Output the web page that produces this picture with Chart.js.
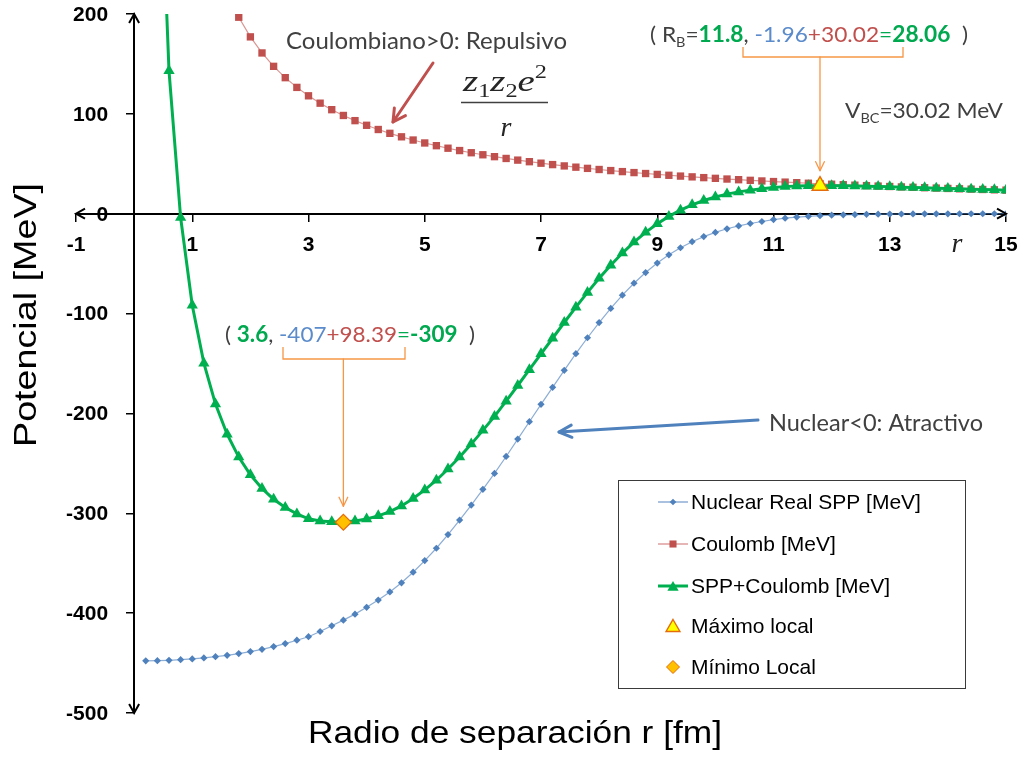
<!DOCTYPE html>
<html>
<head>
<meta charset="utf-8">
<script src="https://cdn.jsdelivr.net/npm/chart.js@4.4.1/dist/chart.umd.min.js"></script>
<style>
  html, body { margin: 0; padding: 0; background: #fff; }
  #wrap { width: 1032px; height: 762px; position: relative; }
</style>
</head>
<body>
<div id="wrap"><canvas id="c" width="1032" height="762"></canvas></div>
<script>
// ---- Data -------------------------------------------------------------
// Separation radius r [fm] for the nuclear (SPP) potential
const radiusNuclear = [0.2,0.4,0.6,0.8,1.0,1.2,1.4,1.6,1.8,2.0,2.2,2.4,2.6,2.8,3.0,3.2,3.4,3.6,3.8,4.0,
  4.2,4.4,4.6,4.8,5.0,5.2,5.4,5.6,5.8,6.0,6.2,6.4,6.6,6.8,7.0,7.2,7.4,7.6,7.8,8.0,
  8.2,8.4,8.6,8.8,9.0,9.2,9.4,9.6,9.8,10.0,10.2,10.4,10.6,10.8,11.0,11.2,11.4,11.6,11.8,12.0,
  12.2,12.4,12.6,12.8,13.0,13.2,13.4,13.6,13.8,14.0,14.2,14.4,14.6,14.8,15.0];
// Nuclear real SPP potential [MeV]
const nuclearSPP = [-447.8,-447.6,-447.2,-446.6,-445.8,-444.8,-443.6,-442.2,-440.5,-438.5,
  -436.2,-433.5,-430.5,-427.1,-423.6,-418.4,-412.7,-407.0,-401.0,-394.2,
  -386.9,-378.8,-369.6,-359.0,-347.4,-335.0,-321.3,-306.8,-291.8,-276.0,
  -260.1,-243.1,-225.7,-208.3,-190.9,-173.9,-156.8,-140.2,-124.2,-109.0,
  -94.8,-81.6,-69.6,-58.9,-49.4,-41.2,-34.1,-28.0,-22.9,-18.7,
  -15.1,-12.2,-9.8,-7.8,-5.9,-4.5,-3.4,-2.6,-1.96,-1.48,
  -1.12,-0.85,-0.64,-0.48,-0.36,-0.27,-0.20,-0.15,-0.11,-0.08,
  -0.06,-0.045,-0.033,-0.025,-0.018];

// Coulomb potential [MeV]
const radiusCoulomb = [1.8,2.0,2.2,2.4,2.6,2.8,3.0,3.2,3.4,3.6,3.8,4.0,
  4.2,4.4,4.6,4.8,5.0,5.2,5.4,5.6,5.8,6.0,6.2,6.4,6.6,6.8,7.0,7.2,7.4,7.6,7.8,8.0,
  8.2,8.4,8.6,8.8,9.0,9.2,9.4,9.6,9.8,10.0,10.2,10.4,10.6,10.8,11.0,11.2,11.4,11.6,11.8,12.0,
  12.2,12.4,12.6,12.8,13.0,13.2,13.4,13.6,13.8,14.0,14.2,14.4,14.6,14.8,15.0];
const coulomb = [196.78,177.10,161.00,147.58,136.23,126.50,118.07,110.69,104.18,98.39,93.21,88.55,
  84.33,80.50,77.00,73.79,70.84,68.12,65.59,63.25,61.07,59.03,57.13,55.34,53.67,52.09,50.60,49.19,47.86,46.61,45.41,44.28,
  43.20,42.17,41.19,40.25,39.36,38.50,37.68,36.90,36.14,35.42,34.73,34.06,33.42,32.80,32.20,31.63,31.07,30.53,30.02,29.52,
  29.03,28.56,28.11,27.67,27.25,26.83,26.43,26.04,25.67,25.30,24.94,24.60,24.26,23.93,23.61];

// Total potential SPP + Coulomb [MeV]
const radiusTotal = [0.4,0.6,0.8,1.0,1.2,1.4,1.6,1.8,2.0,2.2,2.4,2.6,2.8,3.0,3.2,3.4,3.6,3.8,4.0,
  4.2,4.4,4.6,4.8,5.0,5.2,5.4,5.6,5.8,6.0,6.2,6.4,6.6,6.8,7.0,7.2,7.4,7.6,7.8,8.0,
  8.2,8.4,8.6,8.8,9.0,9.2,9.4,9.6,9.8,10.0,10.2,10.4,10.6,10.8,11.0,11.2,11.4,11.6,11.8,12.0,
  12.2,12.4,12.6,12.8,13.0,13.2,13.4,13.6,13.8,14.0,14.2,14.4,14.6,14.8,15.0];
const sppCoulomb = [437.90,143.13,-3.85,-91.60,-149.63,-190.60,-220.82,-243.72,-261.40,-275.20,-285.92,-294.27,-300.60,-305.53,-307.71,-308.52,-308.61,-307.79,-305.65,
  -302.57,-298.30,-292.60,-285.21,-276.56,-266.88,-255.71,-243.55,-230.73,-216.97,-202.97,-187.76,-172.03,-156.21,-140.30,-124.71,-108.94,-93.59,-78.79,-64.72,
  -51.60,-39.43,-28.41,-18.65,-10.04,-2.70,3.58,8.90,13.24,16.72,19.63,21.86,23.62,25.00,26.30,27.13,27.67,27.93,28.06,28.04,
  27.91,27.71,27.47,27.19,26.89,26.56,26.23,25.89,25.56,25.22,24.88,24.56,24.23,23.91,23.59];

// Barrier (local maximum) and well bottom (local minimum)
const maxLocalR = [11.8];
const maxLocalV = [28.06];
const minLocalR = [3.6];
const minLocalV = [-309];

// Axis tick values
const xTicks = [-1, 1, 3, 5, 7, 9, 11, 13, 15];
const yTicks = [200, 100, 0, -100, -200, -300, -400, -500];

// ---- Styling -----------------------------------------------------------
const AXIS_FONT = '"Liberation Sans", Arial, sans-serif';
const NOTE_FONT = 'Lato, "Open Sans", sans-serif';
const SERIF = '"Liberation Serif", "DejaVu Serif", serif';
const C_BLUE = '#4F81BD', C_RED = '#C0504D', C_GREEN = '#00B050', C_ORANGE = '#F79646';
const C_TEXT = '#404040', T_BLUE = '#5B8BCB', T_RED = '#C0504D', T_GREEN = '#00A84F';

const pts = (xs, ys) => xs.map((x, i) => ({ x: x, y: ys[i] }));

// ---- Drawing helpers ---------------------------------------------------
function drawMarker(ctx, style, x, y, r, fill, stroke, lw) {
  ctx.beginPath();
  if (style === 'triangle') {
    for (let k = 0; k < 3; k++) {
      const a = k * 2 * Math.PI / 3;
      const px = x + r * Math.sin(a), py = y - r * Math.cos(a);
      k ? ctx.lineTo(px, py) : ctx.moveTo(px, py);
    }
    ctx.closePath();
  } else if (style === 'rect') {
    const s = r * Math.SQRT1_2;
    ctx.rect(x - s, y - s, 2 * s, 2 * s);
  } else {
    ctx.moveTo(x, y - r); ctx.lineTo(x + r, y); ctx.lineTo(x, y + r); ctx.lineTo(x - r, y); ctx.closePath();
  }
  ctx.fillStyle = fill; ctx.fill();
  if (lw) { ctx.strokeStyle = stroke; ctx.lineWidth = lw; ctx.stroke(); }
}

function arrow(ctx, x1, y1, x2, y2, color, width, head, spread) {
  ctx.save();
  ctx.strokeStyle = color; ctx.lineWidth = width; ctx.lineCap = 'round'; ctx.lineJoin = 'round';
  ctx.beginPath(); ctx.moveTo(x1, y1); ctx.lineTo(x2, y2); ctx.stroke();
  const a = Math.atan2(y2 - y1, x2 - x1), s = spread || 0.5;
  ctx.beginPath();
  ctx.moveTo(x2 - head * Math.cos(a - s), y2 - head * Math.sin(a - s));
  ctx.lineTo(x2, y2);
  ctx.lineTo(x2 - head * Math.cos(a + s), y2 - head * Math.sin(a + s));
  ctx.stroke();
  ctx.restore();
}

// Rich text: segments {t, color, bold, sub}, squeezed to a given width
function richText(ctx, segs, x, y, width, size, family, align) {
  ctx.save();
  ctx.textBaseline = 'middle';
  ctx.textAlign = 'left';
  const fontOf = s => (s.italic ? 'italic ' : '') + (s.bold ? 'bold ' : '') +
    (s.sub ? Math.round(size * 0.62) : size) + 'px ' + family;
  let total = 0;
  segs.forEach(s => { ctx.font = fontOf(s); s.w = ctx.measureText(s.t).width; total += s.w; });
  const k = width ? width / total : 1;
  const left = align === 'center' ? x - (width || total) / 2 : x;
  ctx.translate(left, y);
  ctx.scale(k, 1);
  let cx = 0;
  segs.forEach(s => {
    ctx.font = fontOf(s);
    ctx.fillStyle = s.color;
    ctx.fillText(s.t, cx, s.sub ? size * 0.32 : 0);
    cx += s.w;
  });
  ctx.restore();
}

function bracket(ctx, xl, xr, yTop, yBar, xc, yTip) {
  ctx.save();
  ctx.strokeStyle = C_ORANGE; ctx.lineWidth = 1.3;
  ctx.beginPath();
  ctx.moveTo(xl, yTop); ctx.lineTo(xl, yBar); ctx.lineTo(xr, yBar); ctx.lineTo(xr, yTop);
  ctx.stroke();
  ctx.restore();
  arrow(ctx, xc, yBar, xc, yTip, C_ORANGE, 1.3, 10, 0.45);
}

// ---- Plugin: background, axis arrows, labels, notes and legend ----------
const decorations = {
  id: 'decorations',
  beforeDraw(chart) {
    const ctx = chart.ctx;
    ctx.save(); ctx.fillStyle = '#fff'; ctx.fillRect(0, 0, chart.width, chart.height); ctx.restore();
  },
  afterDraw(chart) {
    const ctx = chart.ctx, xs = chart.scales.x, ys = chart.scales.y, area = chart.chartArea;
    const x0 = xs.getPixelForValue(0), y0 = ys.getPixelForValue(0);

    // Arrow heads on both ends of each axis
    ctx.save();
    ctx.strokeStyle = '#000'; ctx.lineWidth = 2; ctx.lineJoin = 'miter';
    const h = 9, w = 5;
    ctx.beginPath();
    ctx.moveTo(x0 - w, area.top + h); ctx.lineTo(x0, area.top); ctx.lineTo(x0 + w, area.top + h);
    ctx.moveTo(x0 - w, area.bottom - h); ctx.lineTo(x0, area.bottom); ctx.lineTo(x0 + w, area.bottom - h);
    ctx.moveTo(area.left + h, y0 - w); ctx.lineTo(area.left, y0); ctx.lineTo(area.left + h, y0 + w);
    ctx.moveTo(area.right - h, y0 - w); ctx.lineTo(area.right, y0); ctx.lineTo(area.right - h, y0 + w);
    ctx.stroke();
    ctx.restore();

    // Y tick labels, left of the vertical axis
    ctx.save();
    ctx.font = 'bold 21px ' + AXIS_FONT;
    ctx.fillStyle = '#000'; ctx.textAlign = 'right'; ctx.textBaseline = 'middle';
    ys.ticks.forEach(t => ctx.fillText(String(t.value), x0 - 26, ys.getPixelForValue(t.value) + 1));
    ctx.restore();

    // Axis titles
    ctx.save();
    ctx.translate(27, 315); ctx.rotate(-Math.PI / 2);
    richText(ctx, [{ t: 'Potencial [MeV]', color: '#000' }], 0, 0, 264, 32, AXIS_FONT, 'center');
    ctx.restore();
    richText(ctx, [{ t: 'Radio de separación r [fm]', color: '#000' }], 515, 734, 414, 32, AXIS_FONT, 'center');

    // Italic r next to the horizontal axis
    ctx.save();
    ctx.font = 'italic 28px ' + SERIF; ctx.fillStyle = '#222'; ctx.textAlign = 'center';
    ctx.textBaseline = 'alphabetic';
    ctx.fillText('r', 957, 252);
    ctx.restore();

    // Coulomb note, arrow and formula
    richText(ctx, [{ t: 'Coulombiano>0: Repulsivo', color: C_TEXT }], 286, 42, 281, 23, NOTE_FONT);
    arrow(ctx, 433, 63, 393, 122, C_RED, 3, 14, 0.5);
    ctx.save();
    ctx.fillStyle = '#262626'; ctx.textBaseline = 'alphabetic';
    const fparts = [
      { t: 'z', f: 'italic 32px ' + SERIF, dy: 0 },
      { t: '1', f: '20px ' + SERIF, dy: 7 },
      { t: 'z', f: 'italic 32px ' + SERIF, dy: 0 },
      { t: '2', f: '20px ' + SERIF, dy: 7 },
      { t: 'e', f: 'italic 32px ' + SERIF, dy: 0 },
      { t: '2', f: '20px ' + SERIF, dy: -15 }
    ];
    let ftot = 0;
    fparts.forEach(p => { ctx.font = p.f; p.w = ctx.measureText(p.t).width; ftot += p.w; });
    ctx.translate(463, 91); ctx.scale(84 / ftot, 0.9);
    let fx = 0;
    fparts.forEach(p => { ctx.font = p.f; ctx.fillText(p.t, fx, p.dy); fx += p.w; });
    ctx.restore();
    ctx.save();
    ctx.strokeStyle = '#404040'; ctx.lineWidth = 1.3;
    ctx.beginPath(); ctx.moveTo(461, 102.5); ctx.lineTo(548, 102.5); ctx.stroke();
    ctx.font = 'italic 28px ' + SERIF; ctx.fillStyle = '#262626'; ctx.textAlign = 'center';
    ctx.textBaseline = 'alphabetic';
    ctx.fillText('r', 506, 136);
    ctx.restore();

    // Barrier annotation
    const mxX = xs.getPixelForValue(maxLocalR[0]), mxY = ys.getPixelForValue(maxLocalV[0]);
    richText(ctx, [
      { t: '( R', color: C_TEXT }, { t: 'B', color: C_TEXT, sub: true }, { t: '=', color: C_TEXT },
      { t: '11.8', color: T_GREEN, bold: true }, { t: ', ', color: C_TEXT },
      { t: '-1.96', color: T_BLUE }, { t: '+30.02', color: T_RED }, { t: '=', color: T_GREEN },
      { t: '28.06', color: T_GREEN, bold: true }, { t: '  )', color: C_TEXT }
    ], 650, 35, 318, 22, NOTE_FONT);
    bracket(ctx, 743, 903, 47, 57, mxX, mxY - 15);
    richText(ctx, [
      { t: 'V', color: C_TEXT }, { t: 'BC', color: C_TEXT, sub: true }, { t: '=30.02 MeV', color: C_TEXT }
    ], 845, 111, 158, 22, NOTE_FONT);

    // Well bottom annotation
    const mnX = xs.getPixelForValue(minLocalR[0]), mnY = ys.getPixelForValue(minLocalV[0]);
    richText(ctx, [
      { t: '( ', color: C_TEXT }, { t: '3.6', color: T_GREEN, bold: true }, { t: ', ', color: C_TEXT },
      { t: '-407', color: T_BLUE }, { t: '+98.39', color: T_RED }, { t: '=', color: T_GREEN },
      { t: '-309', color: T_GREEN, bold: true }, { t: '  )', color: C_TEXT }
    ], 225, 335, 250, 22, NOTE_FONT);
    bracket(ctx, 283, 405, 347, 359, mnX, mnY - 16);

    // Nuclear note and arrow
    richText(ctx, [{ t: 'Nuclear<0: Atractivo', color: C_TEXT }], 769, 424, 214, 23, NOTE_FONT);
    arrow(ctx, 758, 420, 559, 432, C_BLUE, 3, 14, 0.45);

    // Legend
    const L = { left: 618, top: 480, right: 965, bottom: 688 };
    ctx.save();
    ctx.fillStyle = '#fff';
    ctx.fillRect(L.left, L.top, L.right - L.left, L.bottom - L.top);
    ctx.strokeStyle = '#3a3a3a'; ctx.lineWidth = 1;
    ctx.strokeRect(L.left + 0.5, L.top + 0.5, L.right - L.left, L.bottom - L.top);
    const rows = [
      { y: 502, text: 'Nuclear Real SPP [MeV]', line: 'rgba(79,129,189,0.8)', lw: 1.2, m: 'rectRot', r: 3.3, fill: C_BLUE },
      { y: 544, text: 'Coulomb [MeV]', line: 'rgba(192,80,77,0.7)', lw: 1.2, m: 'rect', r: 5, fill: C_RED },
      { y: 586, text: 'SPP+Coulomb [MeV]', line: C_GREEN, lw: 3, m: 'triangle', r: 6.5, fill: C_GREEN },
      { y: 626, text: 'Máximo local', line: null, m: 'triangle', r: 8, fill: '#FFFF00', stroke: '#E46C0A', slw: 1.4 },
      { y: 667, text: 'Mínimo Local', line: null, m: 'rectRot', r: 6.5, fill: '#FFC000', stroke: '#E46C0A', slw: 1 }
    ];
    rows.forEach(row => {
      if (row.line) {
        ctx.strokeStyle = row.line; ctx.lineWidth = row.lw;
        ctx.beginPath(); ctx.moveTo(658, row.y); ctx.lineTo(688, row.y); ctx.stroke();
      }
      drawMarker(ctx, row.m, 673, row.m === 'triangle' ? row.y + 1.5 : row.y, row.r, row.fill, row.stroke, row.slw);
      ctx.font = '21px ' + AXIS_FONT; ctx.fillStyle = '#000';
      ctx.textAlign = 'left'; ctx.textBaseline = 'middle';
      ctx.fillText(row.text, 691, row.y + 1);
    });
    ctx.restore();
  }
};

// ---- Chart ---------------------------------------------------------------
new Chart(document.getElementById('c'), {
  type: 'scatter',
  data: {
    datasets: [
      {
        label: 'Máximo local', data: pts(maxLocalR, maxLocalV), order: 0, showLine: false,
        pointStyle: 'triangle', pointRadius: 9, pointBackgroundColor: '#FFFF00',
        pointBorderColor: '#E46C0A', pointBorderWidth: 1.5
      },
      {
        label: 'Mínimo Local', data: pts(minLocalR, minLocalV), order: 0, showLine: false,
        pointStyle: 'rectRot', pointRadius: 8, pointBackgroundColor: '#FFC000',
        pointBorderColor: '#E46C0A', pointBorderWidth: 1.2
      },
      {
        label: 'SPP+Coulomb [MeV]', data: pts(radiusTotal, sppCoulomb), order: 1, showLine: true,
        borderColor: C_GREEN, borderWidth: 3, tension: 0,
        pointStyle: 'triangle', pointRadius: 6.5, pointBackgroundColor: C_GREEN,
        pointBorderColor: C_GREEN, pointBorderWidth: 0
      },
      {
        label: 'Coulomb [MeV]', data: pts(radiusCoulomb, coulomb), order: 2, showLine: true,
        borderColor: 'rgba(192,80,77,0.6)', borderWidth: 1.2, tension: 0,
        pointStyle: 'rect', pointRadius: 5.2, pointBackgroundColor: C_RED,
        pointBorderColor: C_RED, pointBorderWidth: 0
      },
      {
        label: 'Nuclear Real SPP [MeV]', data: pts(radiusNuclear, nuclearSPP), order: 3, showLine: true,
        borderColor: 'rgba(79,129,189,0.65)', borderWidth: 1.2, tension: 0,
        pointStyle: 'rectRot', pointRadius: 3.6, pointBackgroundColor: C_BLUE,
        pointBorderColor: C_BLUE, pointBorderWidth: 0
      }
    ]
  },
  options: {
    responsive: false,
    animation: false,
    devicePixelRatio: 1,
    layout: { padding: { left: 76, top: 14, right: 26, bottom: 49 } },
    plugins: { legend: { display: false }, tooltip: { enabled: false } },
    scales: {
      x: {
        type: 'linear', min: -1, max: 15, position: { y: 0 },
        afterBuildTicks: s => { s.ticks = xTicks.map(v => ({ value: v })); },
        border: { display: true, color: '#000', width: 2 },
        grid: { drawOnChartArea: false, drawTicks: true, tickLength: 7, color: '#000', lineWidth: 1.5 },
        ticks: {
          autoSkip: false, maxRotation: 0, padding: 12, color: '#000',
          font: { family: AXIS_FONT, size: 21, weight: 'bold' },
          callback: v => String(v)
        }
      },
      y: {
        type: 'linear', min: -500, max: 200, position: { x: 0 },
        afterBuildTicks: s => { s.ticks = yTicks.map(v => ({ value: v })); },
        border: { display: true, color: '#000', width: 2 },
        grid: { drawOnChartArea: false, drawTicks: true, tickLength: 7, color: '#000', lineWidth: 1.5 },
        ticks: { display: false }
      }
    }
  },
  plugins: [decorations]
});
</script>
</body>
</html>
